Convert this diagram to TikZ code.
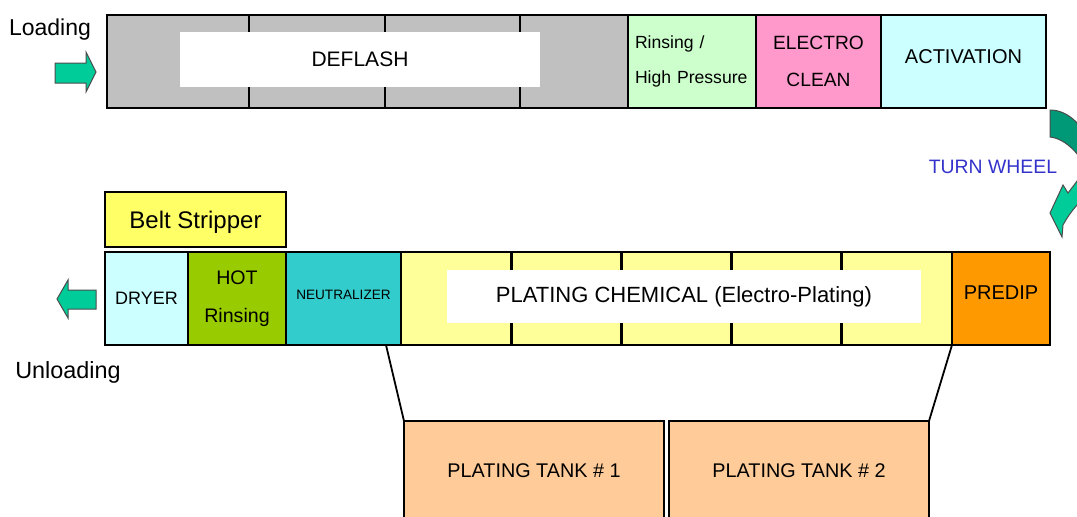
\documentclass[tikz,border=0pt]{standalone}
\usepackage{fontspec}
\setmainfont{Liberation Sans}
\usetikzlibrary{positioning, calc}
\definecolor{deflashgrey}{HTML}{C0C0C0}
\definecolor{rinsegreen}{HTML}{CCFFCC}
\definecolor{cleanpink}{HTML}{FF99CC}
\definecolor{activcyan}{HTML}{CCFFFF}
\definecolor{hotgreen}{HTML}{99CC00}
\definecolor{neutteal}{HTML}{33CCCC}
\definecolor{platyellow}{HTML}{FFFF99}
\definecolor{predipor}{HTML}{FF9900}
\definecolor{beltyellow}{HTML}{FFFF66}
\definecolor{tankpeach}{HTML}{FFCC99}
\definecolor{arrowgreen}{HTML}{00CC99}
\definecolor{arrowdark}{HTML}{009977}
\definecolor{wheelblue}{HTML}{3333CC}
\newcommand{\fsz}[2]{\fontsize{#1}{#2}\selectfont}

\tikzset{
  stage/.style={draw=black, line width=1.4pt, inner sep=0pt, outer sep=0pt,
                align=center, minimum height=46.5pt},
  tag/.style={fill=white, inner sep=0pt, outer sep=0pt},
  tank/.style={draw=black, line width=0.9pt, fill=tankpeach, inner sep=0pt, outer sep=0pt,
               minimum width=130pt, minimum height=50pt, font=\fsz{9.9}{12}},
  flowarrow/.style={fill=arrowgreen, draw=black!70, line width=0.5pt},
}

\begin{document}
\begin{tikzpicture}[x=0.5pt, y=-0.5pt]
    \useasboundingbox (0,0) rectangle (1077,516);

    % loading line
    \node[stage, fill=deflashgrey, minimum width=71pt, anchor=north west] (d1) at (107,15) {};
    \node[stage, fill=deflashgrey, minimum width=68pt, right=0pt of d1] (d2) {};
    \node[stage, fill=deflashgrey, minimum width=67.5pt, right=0pt of d2] (d3) {};
    \node[stage, fill=deflashgrey, minimum width=54pt, right=0pt of d3] (d4) {};
    \node[stage, fill=rinsegreen, minimum width=64pt, text width=57pt, align=left,
          font=\fsz{8.8}{17.5}, right=0pt of d4] (rinse) {Rinsing /\\High Pressure};
    \node[stage, fill=cleanpink, minimum width=62.5pt, font=\fsz{9.6}{18.5},
          right=0pt of rinse] (eclean) {ELECTRO\\CLEAN};
    \node[stage, fill=activcyan, minimum width=82.5pt, font=\fsz{10}{12}, text depth=5pt,
          right=0pt of eclean] (activ) {ACTIVATION};
    \node[tag, minimum width=180pt, minimum height=27.5pt, font=\fsz{10.5}{12}] (deflash) at (360,59.5) {DEFLASH};

    % unloading line
    \node[stage, fill=activcyan, minimum width=41.5pt, font=\fsz{9}{12}, anchor=north west] (dryer) at (105,252) {DRYER};
    \node[stage, fill=hotgreen, minimum width=49pt, font=\fsz{9.8}{19}, right=0pt of dryer] (hot) {HOT\\Rinsing};
    \node[stage, fill=neutteal, minimum width=57.5pt, font=\fsz{6.8}{8}, text depth=4pt, right=0pt of hot] (neut) {NEUTRALIZER};
    \foreach \i in {1,...,5}
      \node[stage, fill=platyellow, minimum width=55.1pt, anchor=north west] (p\i) at ({401+110.2*(\i-1)},252) {};
    \node[stage, fill=predipor, minimum width=49pt, font=\fsz{10}{12}, text depth=6pt, right=0pt of p5] (predip) {PREDIP};
    \node[tag, minimum width=237pt, minimum height=26.5pt, font=\fsz{11}{12}] (plating) at (684,296.5) {PLATING CHEMICAL (Electro-Plating)};
    \node[stage, fill=beltyellow, minimum width=90.5pt, minimum height=27.5pt, font=\fsz{12}{14}, text depth=0pt,
          above right=2.5pt and 0pt of dryer.north west] (belt) {Belt Stripper};

    % plating tanks
    \node[tank, anchor=north west] (tank1) at (404,421) {PLATING TANK \# 1};
    \node[tank, right=2.5pt of tank1] (tank2) {PLATING TANK \# 2};
    \coordinate (zoomleft) at ($(neut.south east)+(-15,0)$);
    \draw[line width=0.9pt] (zoomleft) -- (tank1.north west);
    \draw[line width=0.9pt] (p5.south east) -- (tank2.north east);

    % labels and arrows
    \node[font=\fsz{11.5}{14}] (loading) at (50,30) {Loading};
    \node[font=\fsz{11.7}{14}] (unloading) at (68,372) {Unloading};
    \node[font=\fsz{9.7}{12}, text=wheelblue] (turn) at (993,167) {TURN WHEEL};
    \filldraw[flowarrow] (55,63) -- (86,63) -- (86,52) -- (96,72) -- (86,92) -- (86,83) -- (55,83) -- cycle;
    \filldraw[flowarrow] (96,290) -- (68,290) -- (68,280) -- (57,299) -- (68,318) -- (68,309) -- (96,309) -- cycle;
    \filldraw[flowarrow, fill=arrowdark] (1050,110) .. controls (1066,110) and (1080,122) .. (1088,140)
      -- (1100,140) -- (1090,190) -- (1078,155) .. controls (1070,145) and (1060,138) .. (1050,137) -- cycle;
    \filldraw[flowarrow] (1090,162) .. controls (1082,175) and (1074,185) .. (1068,193) -- (1063,185)
      -- (1050,213) -- (1062,237) -- (1063,225) .. controls (1070,212) and (1080,200) .. (1092,192) -- cycle;
\end{tikzpicture}
\end{document}
